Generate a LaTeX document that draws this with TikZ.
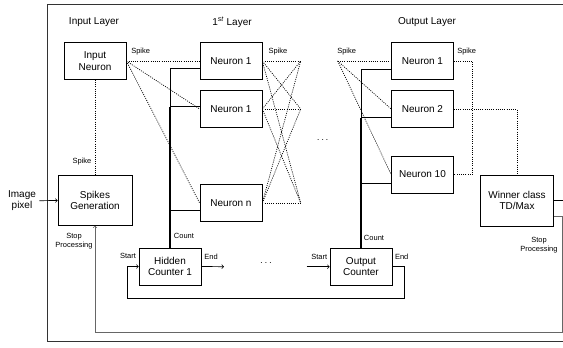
\documentclass[tikz,border=0pt]{standalone}
\usepackage{fontspec}
\setmainfont{Liberation Sans}
\usetikzlibrary{arrows,positioning}

\begin{document}
\begin{tikzpicture}[x=1pt, y=-1pt,
		box/.style  = {draw, line width=0.7pt, align=center, inner sep=0pt, minimum width=62pt, minimum height=37pt, font=\fontsize{10}{11.5}\selectfont},
		big/.style  = {box, minimum width=74pt, minimum height=50pt},
		title/.style = {font=\fontsize{10}{12}\selectfont},
		lbl/.style  = {font=\fontsize{7.5}{9}\selectfont, align=center, inner sep=1pt},
		spk/.style  = {dash pattern=on 1pt off 1.2pt, line width=0.7pt},
		cnt/.style  = {line width=0.7pt},
		bus/.style  = {line width=1.4pt},
		stopline/.style = {draw=black!60, line width=0.6pt},
		>=to]
		
		\useasboundingbox (0,0) rectangle (563,348);
		
		% outer frame, cut at the right
		\draw[black!80, line width=0.9pt] (563,4.7) -- (47.7,4.7) -- (47.7,341.7) -- (563,341.7);
		
		% layer titles
		\node[title] (tin)  at (94,22)   {Input Layer};
		\node[title] (thid) at (232,22)  {1\textsuperscript{\itshape st} Layer};
		\node[title] (tout) at (427,22.5) {Output Layer};
		
		% input side
		\node[box] (in) at (95,61) {Input\\Neuron};
		\node[big] (sg) at (95,200.5) {Spikes\\Generation};
		\node[align=center, font=\fontsize{10}{11.5}\selectfont] (img) at (22,200.7) {Image\\pixel};
		
		% first layer
		\node[box] (h1) at (231,61)  {Neuron 1};
		\node[box] (h2) at (231,109) {Neuron 1};
		\node[box] (hn) at (231,203) {Neuron n};
		\node[box] (hc) at (170,266.5) {Hidden\\Counter 1};
		
		% output layer
		\node[box] (o1)  at (422.5,61)    {Neuron 1};
		\node[box] (o2)  at (422.5,109)   {Neuron 2};
		\node[box] (o10) at (422.5,174.5) {Neuron 10};
		\node[box] (oc)  at (361,266.7)   {Output\\Counter};
		\node[big, minimum width=73pt, minimum height=51pt] (win) at (517,200.5) {Winner class\\TD/Max};
		
		% free ends of the spike fans
		\coordinate (s1) at (300.7,61);
		\coordinate (s2) at (300.7,109);
		\coordinate (s3) at (300.7,203);
		\coordinate (so) at (337.7,61);
		
		% spikes from the input neuron
		\draw[spk] (in.south) -- (sg.north);
		\foreach \value in {h1,h2,hn}
		\draw[spk] (in.east) -- (\value.west);
		
		% spikes from the first layer
		\foreach \value in {h1,h2,hn}
		\foreach \pt in {s1,s2,s3}
		\draw[spk] (\value.east) -- (\pt);
		
		% spikes into the output layer
		\foreach \value in {o1,o2,o10}
		\draw[spk] (so) -- (\value.west);
		
		\draw[spk] (o1.east) -- ++(18.8,0) |- (o10.east);
		\draw[spk] (o2.east) -| (win.north);
		
		% count lines of the first layer
		\draw[cnt] (hc.north) |- ([yshift=-7.3pt]h1.west);
		\draw[cnt] (hc.north) |- ([yshift=2.3pt]h2.west);
		\draw[cnt] (hc.north) |- ([yshift=-7.3pt]hn.west);
		\draw[bus] (hc.north) -- (hc.north |- 0,106.7);
		
		% count lines of the output layer
		\draw[cnt] (oc.north) |- ([yshift=-8.3pt]o1.west);
		\draw[cnt] (oc.north) |- ([yshift=-8.7pt]o2.west);
		\draw[cnt] (oc.north) |- ([yshift=-8.8pt]o10.west);
		\draw[bus] (oc.north) -- (oc.north |- 0,117.7);
		
		% counters
		\coordinate (hend) at (224,266.7);
		\coordinate (ostart) at (306.7,266.7);
		\coordinate (lp) at (127.7,298.3);
		\draw[->, cnt] (img.east) -- (sg.west);
		\draw[->, cnt] (hc.east) -- (hend);
		\draw[->, cnt] (ostart) -- (oc.west);
		\draw[->, cnt] (oc.east) -- ++(12,0) |- (lp) |- (hc.west);
		
		% stop processing feedback
		\coordinate (fb) at (562.5,332.5);
		\coordinate (wout) at (563,200.5);
		\draw[cnt] (win.east) -- (wout);
		\draw[->, stopline] ([yshift=-15.8pt]win.east) -| (fb) -| (sg.south);
		
		% dots
		\node[font=\fontsize{10}{12}\selectfont] (d1) at (266,263)  {$\cdots$};
		\node[font=\fontsize{10}{12}\selectfont] (d2) at (322.7,140) {$\cdots$};
		
		% small labels
		\node[lbl] (l1) at (140.7,51.7) {Spike};
		\node[lbl] (l2) at (82,162)     {Spike};
		\node[lbl] (l3) at (278,51.7)   {Spike};
		\node[lbl] (l4) at (346.7,52)   {Spike};
		\node[lbl] (l5) at (466.7,52)   {Spike};
		\node[lbl] (l6) at (184,236)    {Count};
		\node[lbl] (l7) at (374,237.7)  {Count};
		\node[lbl] (l8) at (128,256.3)  {Start};
		\node[lbl] (l9) at (211,256.7)  {End};
		\node[lbl] (l10) at (319.3,256.7) {Start};
		\node[lbl] (l11) at (401.7,257)   {End};
		\node[lbl] (l12) at (74,241)      {Stop\\Processing};
		\node[lbl] (l13) at (539,244.7)   {Stop\\Processing};
		
	\end{tikzpicture}
\end{document}
